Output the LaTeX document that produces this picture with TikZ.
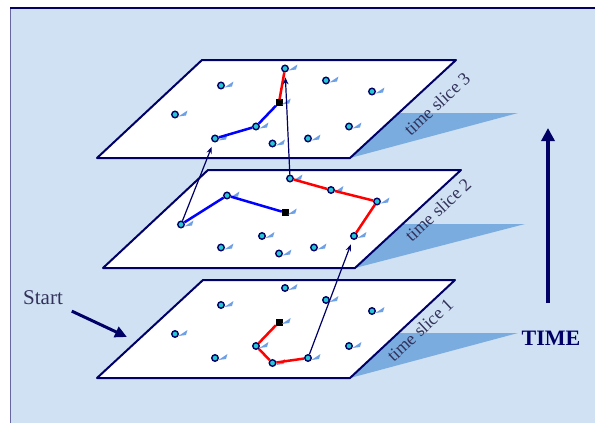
\documentclass[tikz,border=0pt]{standalone}
\usepackage{fontspec}
\setmainfont{Liberation Serif}
\usetikzlibrary{arrows.meta,positioning}
\definecolor{tsnavy}{RGB}{0,0,102}
\definecolor{tsbg}{RGB}{208,225,243}
\definecolor{tsshade}{RGB}{122,172,224}
\definecolor{tscyan}{RGB}{40,200,210}
\definecolor{tstailblue}{RGB}{110,160,230}
\definecolor{tstext}{RGB}{50,50,90}

\begin{document}
\begin{tikzpicture}[x=1pt,y=-1pt,
  tsplane/.style={draw=tsnavy,fill=white,line width=2pt,line join=round},
  tsshadow/.style={fill=tsshade},
  tsdot/.style={circle,draw=tsnavy,fill=tscyan,line width=1.4pt,minimum size=6.5pt,inner sep=0pt},
  tssquare/.style={rectangle,draw=black,fill=black,minimum size=6pt,inner sep=0pt},
  tstail/.style={fill=tstailblue},
  tsred/.style={red,line width=2.5pt},
  tsblue/.style={blue,line width=2.5pt},
  tsjump/.style={-{Stealth[length=7pt,width=5.5pt]},tsnavy,line width=1.2pt,shorten >=5pt},
  tslabel/.style={rotate=43,font=\fontsize{18}{18}\selectfont,text=tstext,inner sep=0pt}
]
  \useasboundingbox (0,0) rectangle (595,423);

  % Frame
  \fill[tsbg] (10,8) rectangle (595,423);
  \draw[tsnavy!60,line width=1pt] (10,423) -- (10,8);
  \draw[tsnavy,line width=2pt] (10,8) -- (595,8);

  % Time slice 3 (top)
  \fill[tsshadow] (350,158) -- (518,113) -- (390,113) -- cycle;
  \draw[tsplane] (97,158) -- (350,158) -- (456,60) -- (202,60) -- cycle;
  \node[tslabel] (slice3) at (437,104) {time slice 3};

  % Time slice 2
  \fill[tsshadow] (355,268) -- (525,224) -- (395,224) -- cycle;
  \draw[tsplane] (103,268) -- (355,268) -- (461,170) -- (208,170) -- cycle;
  \node[tslabel] (slice2) at (438,210) {time slice 2};

  % Time slice 1 (bottom)
  \fill[tsshadow] (350,378) -- (518,333) -- (390,333) -- cycle;
  \draw[tsplane] (97,378) -- (350,378) -- (455,280) -- (203,280) -- cycle;
  \node[tslabel] (slice1) at (420,330) {time slice 1};

  % Points on slice 1
  \foreach \n/\x/\y in {a1/285/288,a2/221/305,a3/326/300,a4/372/311,a5/175/334,
      a7/256/346,a8/349/346,a9/215/358,a10/272.5/363,a11/308/358}
    \node[tsdot] (\n) at (\x,\y) {};
  \node[tssquare] (a6) at (279,322) {};

  % Points on slice 2
  \foreach \n/\x/\y in {b1/290/178.5,b2/331/190,b3/377/201.5,b4/227/195.5,b6/181/224.5,
      b7/262/236,b8/354/236,b9/221/247.5,b10/279/253.5,b11/314/247.5}
    \node[tsdot] (\n) at (\x,\y) {};
  \node[tssquare] (b5) at (285,212.5) {};

  % Points on slice 3
  \foreach \n/\x/\y in {c1/285/68.5,c2/221/85.5,c3/326/80.5,c4/372/91.5,c5/175/114.5,
      c7/256/126.5,c8/349/126.5,c9/215/138.5,c10/272.5/143.5,c11/308/138.5}
    \node[tsdot] (\n) at (\x,\y) {};
  \node[tssquare] (c6) at (279,102.5) {};

  % Tails
  \foreach \p in {a,b,c}
    \foreach \i in {1,...,11}
      \fill[tstail] (\p\i.east) ++(-0.5,2) -- ++(9,-6) -- ++(-1.5,5) -- cycle;

  % Walks
  \draw[tsred] (a6) -- (a7) -- (a10) -- (a11);
  \draw[tsblue] (b6) -- (b4) -- (b5);
  \draw[tsred] (b1) -- (b2) -- (b3) -- (b8);
  \draw[tsblue] (c9) -- (c7) -- (c6);
  \draw[tsred] (c6) -- (c1);

  % Jumps between slices
  \draw[tsjump] (a11) -- (b8);
  \draw[tsjump] (b6) -- (c9);
  \draw[tsjump] (b1) -- (c1);

  % Start
  \node[font=\fontsize{21}{21}\selectfont,text=tstext] (start) at (43,298) {Start};
  \coordinate (starttip) at (127,337);
  \draw[-{Triangle[length=12pt,width=11pt]},tsnavy,line width=3pt,shorten <=6pt]
    (start.south east) -- (starttip);

  % Time axis
  \node[font=\fontsize{22}{22}\selectfont\bfseries,text=tsnavy] (time) at (551,338) {TIME};
  \coordinate (timebase) at (548,303);
  \coordinate (timetop) at (548,128);
  \draw[-{Triangle[length=13pt,width=13pt]},tsnavy,line width=3.5pt] (timebase) -- (timetop);
\end{tikzpicture}
\end{document}
